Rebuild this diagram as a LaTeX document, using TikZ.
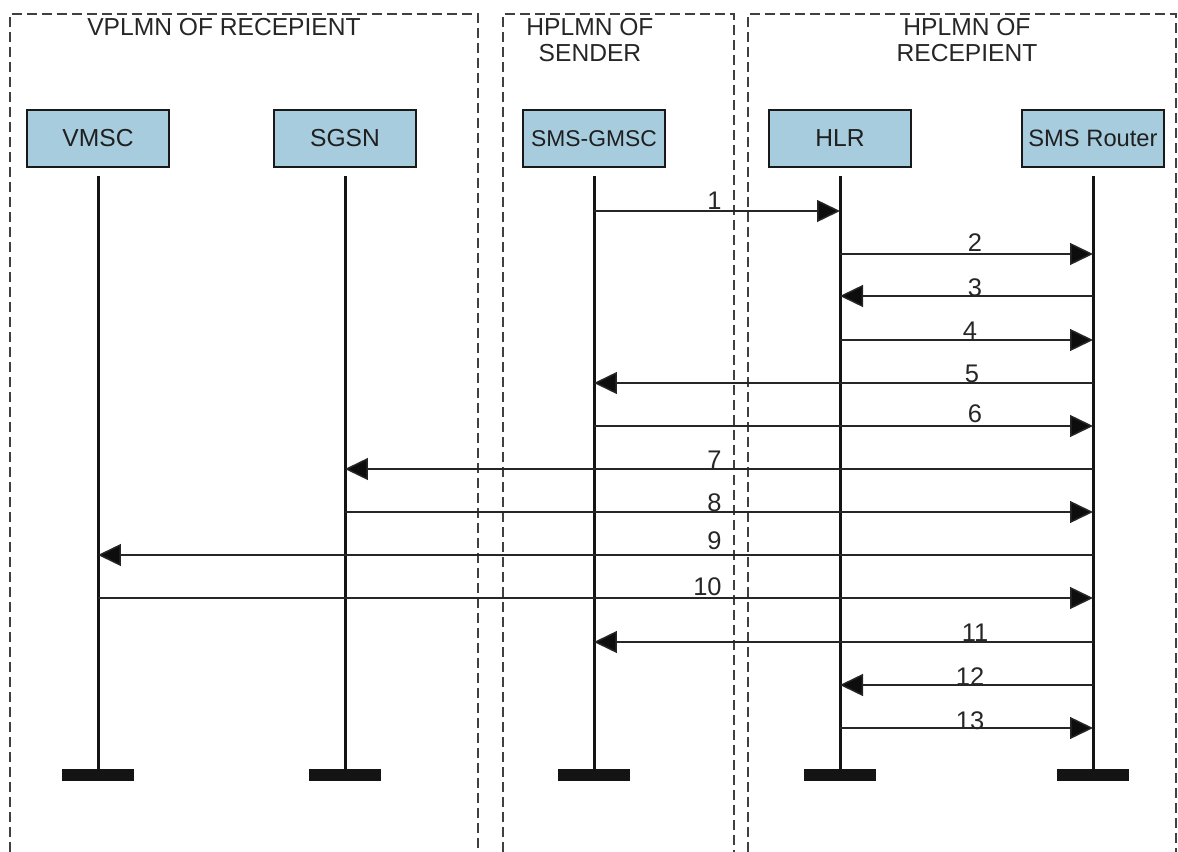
\documentclass[tikz,border=0pt]{standalone}
\usepackage{fontspec}
\setmainfont{Liberation Sans}
\usetikzlibrary{arrows.meta}
\definecolor{boxblue}{RGB}{166,204,222}
\begin{document}
\begin{tikzpicture}[x=0.02cm,y=-0.02cm,
	entity/.style={draw=black!90,line width=0.04cm,fill=boxblue,minimum width=2.84cm,minimum height=1.14cm,inner sep=0pt,text=black!88,font=\fontsize{14}{16}\selectfont},
	bar/.style={fill=black!92,minimum width=1.46cm,minimum height=0.24cm,inner sep=0pt},
	life/.style={line width=0.06cm,black!92,shorten <=0.16cm},
	msg/.style={-{Triangle[length=0.46cm,width=0.44cm,fill=black!95]},line width=0.03cm,black!85},
	num/.style={inner sep=0pt,text=black!85,font=\fontsize{14.5}{16}\selectfont},
	area/.style={dash pattern=on 0.2cm off 0.1cm,line width=0.03cm,black!75},
	title/.style={align=center,inner sep=0pt,text=black!85,font=\fontsize{14}{15}\selectfont}]
			\useasboundingbox (0,0) rectangle (1178,852);
			\draw[area] (10,852) |- (478,14) -- (478,852);
			\draw[area] (503,852) |- (734,14) -- (734,852);
			\draw[area] (748,852) |- (1176,14) -- (1176,852);
			\node[title] (vplmn) at (224,27) {VPLMN OF RECEPIENT};
			\node[title] (hsend) at (590,40) {HPLMN OF\\SENDER};
			\node[title] (hrecp) at (967,40) {HPLMN OF\\RECEPIENT};
			\node[entity] (vmsc) at (98,138.5) {VMSC};
			\node[entity] (sgsn) at (345,138.5) {SGSN};
			\node[entity,font=\fontsize{13}{15}\selectfont] (gmsc) at (594,138.5) {SMS-GMSC};
			\node[entity] (hlr) at (840,138.5) {HLR};
			\node[entity,font=\fontsize{13.5}{15}\selectfont] (router) at (1093,138.5) {SMS Router};
			\node[bar] (vmscend) at (98,775) {};
			\node[bar] (sgsnend) at (345,775) {};
			\node[bar] (gmscend) at (594,775) {};
			\node[bar] (hlrend) at (840,775) {};
			\node[bar] (routerend) at (1093,775) {};
			\draw[life](vmsc)--(vmscend);
			\draw[life](sgsn)--(sgsnend);
			\draw[life](gmsc)--(gmscend);
			\draw[life](hlr)--(hlrend);
			\draw[life](router)--(routerend);
			\draw[msg](gmsc |- 0,211)--(hlr |- 0,211);
			\draw[msg](hlr |- 0,254)--(router |- 0,254);
			\draw[msg](router |- 0,296)--(hlr |- 0,296);
			\draw[msg](hlr |- 0,340)--(router |- 0,340);
			\draw[msg](router |- 0,383)--(gmsc |- 0,383);
			\draw[msg](gmsc |- 0,426)--(router |- 0,426);
			\draw[msg](router |- 0,469)--(sgsn |- 0,469);
			\draw[msg](sgsn |- 0,512)--(router |- 0,512);
			\draw[msg](router |- 0,555)--(vmsc |- 0,555);
			\draw[msg](vmsc |- 0,598)--(router |- 0,598);
			\draw[msg](router |- 0,642)--(gmsc |- 0,642);
			\draw[msg](router |- 0,685)--(hlr |- 0,685);
			\draw[msg](hlr |- 0,728)--(router |- 0,728);
			\node[num,anchor=south east] (l1) at (722,210) {1};
			\node[num,anchor=south] (l2) at (975,252) {2};
			\node[num,anchor=south] (l3) at (975,297) {3};
			\node[num,anchor=south] (l4) at (970,340) {4};
			\node[num,anchor=south] (l5) at (972,383) {5};
			\node[num,anchor=south] (l6) at (975,423) {6};
			\node[num,anchor=south east] (l7) at (722,469) {7};
			\node[num,anchor=south east] (l8) at (722,512) {8};
			\node[num,anchor=south east] (l9) at (722,550) {9};
			\node[num,anchor=south east] (l10) at (722,596) {10};
			\node[num,anchor=south] (l11) at (975,642) {11};
			\node[num,anchor=south] (l12) at (970,686) {12};
			\node[num,anchor=south] (l13) at (970,730) {13};
		\end{tikzpicture}
\end{document}
